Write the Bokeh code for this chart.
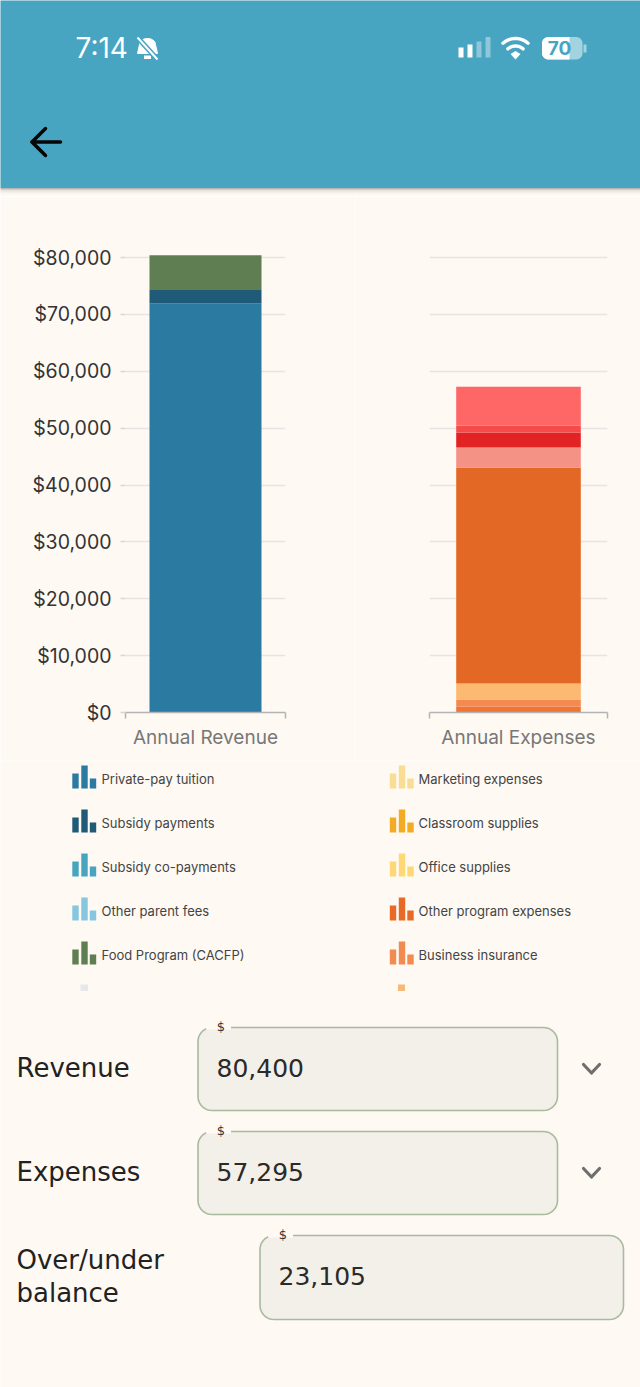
import numpy as np
from bokeh.core.properties import value
from bokeh.embed import file_html
from bokeh.layouts import column, row
from bokeh.models import FixedTicker, NumeralTickFormatter, Range1d
from bokeh.plotting import figure
from bokeh.resources import INLINE

# ---- data ----
revenue_category = "Annual Revenue"
expenses_category = "Annual Expenses"
revenue_values = [71950, 2350, 6100]
revenue_colors = ["#2a7aa1", "#1f5a78", "#5f7f52"]
expense_values = [1055, 1230, 2810, 37980, 3520, 2640, 1230, 6830]
expense_colors = ["#f07535", "#f48a50", "#fdb872", "#e46825", "#f49385", "#e32323", "#f64a4a", "#ff6666"]
y_ticks = [0, 10000, 20000, 30000, 40000, 50000, 60000, 70000, 80000]

legend_left = ["Private-pay tuition", "Subsidy payments", "Subsidy co-payments", "Other parent fees", "Food Program (CACFP)"]
legend_left_colors = ["#2a7aa1", "#1f5a78", "#47a5c2", "#87c6df", "#5f7f52"]
legend_right = ["Marketing expenses", "Classroom supplies", "Office supplies", "Other program expenses", "Business insurance"]
legend_right_colors = ["#f9dd94", "#f4ab24", "#fdd875", "#e76a26", "#f28b51"]

form_labels = [["Revenue"], ["Expenses"], ["Over/under", "balance"]]
form_values = ["80,400", "57,295", "23,105"]

# ---- style ----
BG = "#fef9f3"
HEAD = "#47a5c2"
UI_FONT = "Inter"
FORM_FONT = "DejaVu Sans"
Y_PER_PX = 80000 / 455


def chrome(width, height, x0, x1, y0, y1):
    f = figure(width=width, height=height, output_backend="svg", toolbar_location=None,
               x_range=Range1d(x0, x1), y_range=Range1d(y1, y0), min_border=0)
    f.axis.visible = False
    f.grid.visible = False
    f.outline_line_color = None
    f.background_fill_color = BG
    f.border_fill_color = BG
    return f


def label(f, x, y, s, size, color="#222222", font=UI_FONT, align="left", style="normal"):
    f.text([x], [y], text=[s], text_font=value(font), text_font_size=f"{size}px", text_color=color,
           text_align=align, text_baseline="middle", text_font_style=style)


def rounded(x0, y0, x1, y1, r):
    t = np.linspace(0, np.pi / 2, 10)
    xs = np.concatenate([x1 - r + r * np.sin(t), x1 - r + r * np.cos(t), x0 + r - r * np.sin(t), x0 + r - r * np.cos(t)])
    ys = np.concatenate([y0 + r - r * np.cos(t), y1 - r + r * np.sin(t), y1 - r + r * np.cos(t), y0 + r - r * np.sin(t)])
    return xs, ys


# ---- header ----
top = chrome(640, 196, 0, 640, 0, 196)
top.quad(left=[-5], right=[645], top=[-5], bottom=[187.5], fill_color=HEAD, line_color=None)
for i, a in enumerate([0.42, 0.26, 0.15, 0.09, 0.05, 0.025, 0.01]):
    top.quad(left=[-5], right=[645], top=[187.5 + i], bottom=[188.5 + i], fill_color="#555555", fill_alpha=a, line_color=None)
label(top, 75, 47.5, "7:14", 28, "#ffffff", "Inter")
# muted bell
t = np.linspace(0, np.pi, 16)
bx = np.concatenate([[137], 147 - 8 * np.cos(t), [157]])
by = np.concatenate([[53], 44 - 6 * np.sin(t), [53]])
top.patch(bx, by, fill_color="#ffffff", line_color="#ffffff", line_width=1)
top.quad(left=[143.5], right=[150.5], top=[55], bottom=[58.5], fill_color="#ffffff", line_color=None)
top.line([137, 157], [37, 59], line_color=HEAD, line_width=5)
top.line([137, 157], [37, 59], line_color="#ffffff", line_width=2)
# signal
top.vbar(x=[460.5, 469.5], width=5, top=[47, 44], bottom=[57, 57], fill_color="#ffffff", line_color=None)
top.vbar(x=[478.5, 487.5], width=5, top=[41, 36.5], bottom=[57, 57], fill_color="#ffffff", fill_alpha=0.38, line_color=None)
# wifi
for r, w in [(19, 3.4), (11.5, 3.4)]:
    a = np.linspace(-0.72, 0.72, 20)
    top.line(515 + r * np.sin(a), 58 - r * np.cos(a) - 1, line_color="#ffffff", line_width=w, line_cap="round")
top.patch([515, 510, 515, 520], [59, 53.5, 50.5, 53.5], fill_color="#ffffff", line_color=None)
# battery
xs, ys = rounded(541.5, 36.5, 582, 59, 6.5)
top.patch(xs, ys, fill_color="#ffffff", fill_alpha=0.5, line_color=None)
xw, yw = rounded(541.5, 36.5, 575, 59, 6.5)
top.patch(np.clip(xw, None, 569), yw, fill_color="#ffffff", line_color=None)
top.quad(left=[583], right=[586], top=[44], bottom=[52], fill_color="#ffffff", fill_alpha=0.5, line_color=None)
label(top, 559, 47.5, "70", 19, HEAD, "Inter", "center", "bold")
# back arrow
top.line([31.5, 60], [141.5, 141.5], line_color="#050505", line_width=3.5, line_cap="round")
top.line([45, 31.5, 45], [128, 141.5, 155], line_color="#050505", line_width=3.5, line_cap="round", line_join="round")


# ---- charts ----
def chart(width, border_left, border_right, category, values, colors, bar_width, show_y):
    y_max = 466 * Y_PER_PX
    f = figure(width=width, height=564, output_backend="svg", toolbar_location=None,
               x_range=Range1d(0, 1), y_range=Range1d(0, y_max),
               min_border_left=border_left, min_border_right=border_right, min_border_top=50, min_border_bottom=48)
    f.outline_line_color = None
    f.background_fill_color = BG
    f.border_fill_color = BG
    bottoms = np.concatenate([[0], np.cumsum(values)[:-1]])
    f.vbar(x=[0.5] * len(values), width=bar_width, bottom=bottoms.tolist(),
           top=(bottoms + np.array(values)).tolist(), fill_color=colors, line_color=None)
    f.xgrid.visible = False
    f.ygrid.ticker = FixedTicker(ticks=y_ticks)
    f.ygrid.grid_line_color = "#e7e4e4"
    f.ygrid.grid_line_width = 1.3
    xa = f.xaxis[0]
    xa.ticker = FixedTicker(ticks=[0.5], minor_ticks=[0, 1])
    xa.major_label_overrides = {0.5: category}
    xa.major_tick_out = 0
    xa.major_tick_in = 0
    xa.minor_tick_out = 6
    xa.minor_tick_in = 0
    xa.minor_tick_line_color = "#b4b4b4"
    xa.minor_tick_line_width = 1.5
    xa.axis_line_color = "#b4b4b4"
    xa.axis_line_width = 1.5
    xa.major_label_text_font = UI_FONT
    xa.major_label_text_font_size = "19px"
    xa.major_label_text_color = "#777777"
    xa.major_label_standoff = 7
    ya = f.yaxis[0]
    if show_y:
        ya.ticker = FixedTicker(ticks=y_ticks)
        ya.formatter = NumeralTickFormatter(format="$0,0")
        ya.axis_line_color = None
        ya.major_tick_out = 5
        ya.major_tick_in = 0
        ya.major_tick_line_color = "#d8d5d5"
        ya.major_tick_line_width = 1.3
        ya.minor_tick_line_color = None
        ya.major_label_text_font = UI_FONT
        ya.major_label_text_font_size = "19.5px"
        ya.major_label_text_color = "#333333"
        ya.major_label_standoff = 9
    else:
        ya.visible = False
    return f


left = chart(355, 125, 70, revenue_category, revenue_values, revenue_colors, 0.7, True)
right = chart(285, 74, 33, expenses_category, expense_values, expense_colors, 0.7, False)

# ---- legend + form ----
bot = chrome(640, 627, 0, 640, 760, 1387)


def icon(f, x, y, color):
    f.vbar(x=[x + 3, x + 12, x + 20.5], width=6.4, top=[y - 6, y - 14, y - 1],
           bottom=[y + 9, y + 9, y + 9], fill_color=color, line_color=None)


for i, (name, color) in enumerate(zip(legend_left, legend_left_colors)):
    y = 779 + 44 * i
    icon(bot, 72, y, color)
    label(bot, 101, y - 1, name, 13, "#444444")
for i, (name, color) in enumerate(zip(legend_right, legend_right_colors)):
    y = 779 + 44 * i
    icon(bot, 389.5, y, color)
    label(bot, 418, y - 1, name, 13, "#444444")
bot.quad(left=[80], right=[87.5], top=[984], bottom=[990.5], fill_color="#e8e8ec", line_color=None)
bot.quad(left=[397.5], right=[404.5], top=[984], bottom=[990.5], fill_color="#f8b878", line_color=None)

boxes = [(197.5, 1027, 557, 1110), (197.5, 1131, 557, 1214), (259.5, 1235, 623, 1319)]
label_ys = [[1067], [1171], [1259, 1292]]
for (x0, y0, x1, y1), names, ys, val in zip(boxes, form_labels, label_ys, form_values):
    xs, yy = rounded(x0, y0, x1, y1, 14)
    bot.patch(xs, yy, fill_color="#f3efe9", line_color="#a9ba9e", line_width=1.6)
    bot.line([x0 + 8, x0 + 33], [y0, y0], line_color=BG, line_width=4)
    label(bot, x0 + 23, y0 - 1, "$", 13, "#333333", FORM_FONT, "center")
    label(bot, x0 + 18.5, (y0 + y1) / 2 - 1.5, val, 25, "#2a2a2a", FORM_FONT)
    for n, y in zip(names, ys):
        label(bot, 16, y, n, 26, "#222222", FORM_FONT)
for y in [1068, 1172]:
    bot.line([583, 591, 599], [y - 4, y + 4.5, y - 4], line_color="#6e6e6e", line_width=3.2, line_join="round", line_cap="round")

p = column(top, row(left, right, spacing=0), bot, spacing=0)
open("out.html", "w").write(file_html(p, INLINE))
